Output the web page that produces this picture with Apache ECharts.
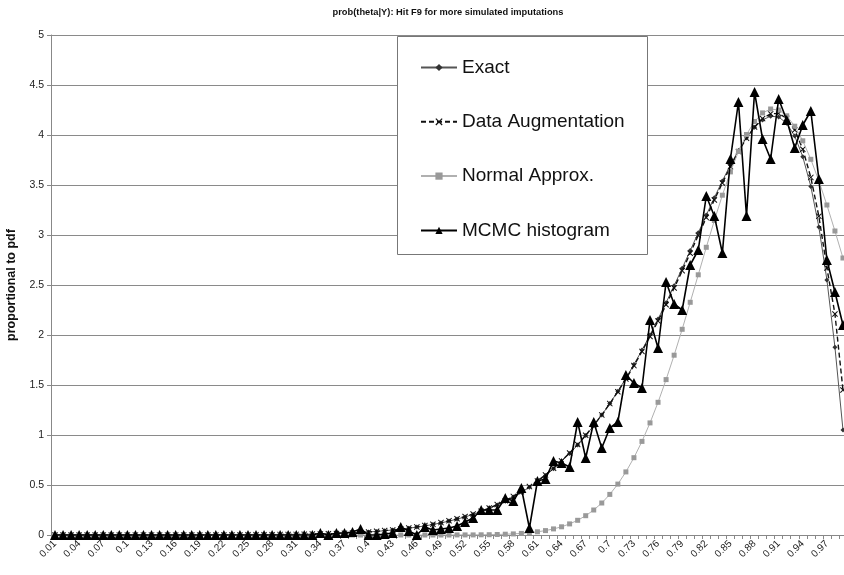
<!DOCTYPE html>
<html>
<head>
<meta charset="utf-8">
<script src="https://cdn.jsdelivr.net/npm/echarts@6/dist/echarts.min.js"></script>
<style>
html,body{margin:0;padding:0;background:#fff;}
#chart{width:844px;height:575px;}
</style>
</head>
<body>
<div id="chart"></div>
<script>
var categories = ['0.01','0.02','0.03','0.04','0.05','0.06','0.07','0.08','0.09','0.1',
'0.11','0.12','0.13','0.14','0.15','0.16','0.17','0.18','0.19','0.2',
'0.21','0.22','0.23','0.24','0.25','0.26','0.27','0.28','0.29','0.3',
'0.31','0.32','0.33','0.34','0.35','0.36','0.37','0.38','0.39','0.4',
'0.41','0.42','0.43','0.44','0.45','0.46','0.47','0.48','0.49','0.5',
'0.51','0.52','0.53','0.54','0.55','0.56','0.57','0.58','0.59','0.6',
'0.61','0.62','0.63','0.64','0.65','0.66','0.67','0.68','0.69','0.7',
'0.71','0.72','0.73','0.74','0.75','0.76','0.77','0.78','0.79','0.8',
'0.81','0.82','0.83','0.84','0.85','0.86','0.87','0.88','0.89','0.9',
'0.91','0.92','0.93','0.94','0.95','0.96','0.97','0.98','0.99'];

var exact = [0,0,0,0,0,0,0,0,0,0,
0,0,0,0,0,0,0,0,0,0,
0.001,0.001,0.001,0.001,0.002,0.002,0.002,0.003,0.004,0.005,
0.006,0.007,0.009,0.011,0.013,0.015,0.018,0.022,0.026,0.031,
0.036,0.043,0.050,0.058,0.068,0.079,0.091,0.105,0.121,0.139,
0.159,0.181,0.206,0.234,0.265,0.300,0.338,0.380,0.427,0.478,
0.534,0.596,0.663,0.736,0.815,0.901,0.994,1.093,1.200,1.315,
1.437,1.567,1.704,1.849,2.000,2.159,2.323,2.493,2.667,2.844,
3.022,3.199,3.373,3.541,3.700,3.845,3.973,4.077,4.151,4.188,
4.180,4.117,3.989,3.783,3.486,3.081,2.551,1.877,1.050];

var dataAug = [0,0,0,0,0,0,0,0,0,0,
0,0,0,0,0,0,0,0,0,0,
0.001,0.001,0.001,0.001,0.002,0.002,0.002,0.003,0.004,0.005,
0.006,0.007,0.009,0.010,0.012,0.015,0.018,0.021,0.025,0.030,
0.037,0.044,0.051,0.060,0.070,0.081,0.094,0.108,0.124,0.142,
0.162,0.185,0.210,0.238,0.270,0.304,0.343,0.386,0.432,0.484,
0.540,0.601,0.668,0.741,0.820,0.905,0.997,1.096,1.201,1.314,
1.433,1.560,1.694,1.836,1.985,2.140,2.302,2.470,2.642,2.818,
2.996,3.174,3.350,3.520,3.683,3.834,3.968,4.080,4.164,4.212,
4.216,4.166,4.050,3.858,3.576,3.187,2.670,2.210,1.450];

var normalApprox = [0,0,0,0,0,0,0,0,0,0,
0,0,0,0,0,0,0,0,0,0,
0,0,0,0,0,0,0,0,0,0,
0,0,0,0,0,0,0,0,0,0,
0,0,0,0,0,0,0,0,0,0,
0.001,0.001,0.001,0.002,0.003,0.005,0.008,0.011,0.016,0.023,
0.032,0.044,0.061,0.082,0.111,0.147,0.193,0.250,0.320,0.406,
0.509,0.631,0.773,0.936,1.121,1.327,1.554,1.798,2.057,2.327,
2.602,2.877,3.145,3.398,3.631,3.835,4.005,4.135,4.221,4.260,
4.250,4.192,4.088,3.942,3.757,3.541,3.300,3.040,2.770];

var mcmc = [0,0,0,0,0,0,0,0,0,0,
0,0,0,0,0,0,0,0,0,0,
0,0,0,0,0,0,0,0,0,0,
0,0,0,0.02,0,0.02,0.02,0.03,0.06,0,
0,0.01,0.02,0.08,0.04,0,0.08,0.05,0.06,0.07,
0.09,0.13,0.17,0.25,0.25,0.25,0.37,0.34,0.47,0.07,
0.54,0.56,0.74,0.72,0.68,1.13,0.77,1.13,0.87,1.07,
1.13,1.60,1.52,1.47,2.15,1.87,2.53,2.31,2.25,2.70,
2.85,3.39,3.19,2.82,3.76,4.33,3.19,4.43,3.96,3.76,
4.36,4.15,3.87,4.10,4.24,3.56,2.75,2.43,2.10];

var yTicks = ['0','0.5','1','1.5','2','2.5','3','3.5','4','4.5','5'];

var FONT = 'Arial, "Liberation Sans", sans-serif';
var xMark = 'path://M0,1.2L1.2,0L5,3.8L8.8,0L10,1.2L6.2,5L10,8.8L8.8,10L5,6.2L1.2,10L0,8.8L3.8,5Z';

var chart = echarts.init(document.getElementById('chart'));
chart.setOption({
  animation: false,
  backgroundColor: '#fff',
  title: {
    text: 'prob(theta|Y): Hit F9 for more simulated imputations',
    left: 443, top: 3, textAlign: 'center',
    textStyle: {fontFamily: FONT, fontSize: 9.3, fontWeight: 'bold', color: '#111'}
  },
  graphic: [{
    type: 'rect', left: 397, top: 36, z: 1,
    shape: {width: 250, height: 218},
    style: {fill: '#fff', stroke: '#777', lineWidth: 1}
  }],
  legend: {
    orient: 'vertical', left: 415, top: 53, z: 5,
    itemWidth: 36, itemHeight: 9, itemGap: 35.3,
    textStyle: {fontFamily: FONT, fontSize: 19, color: '#111'},
    data: ['Exact', 'Data Augmentation', 'Normal Approx.', 'MCMC histogram']
  },
  grid: {left: 51, right: -3, top: 35, bottom: 40, containLabel: false, outerBoundsMode: 'none'},
  xAxis: {
    type: 'category', data: categories, boundaryGap: true,
    axisLine: {lineStyle: {color: '#888', width: 1}},
    axisTick: {show: true, interval: 0, length: 4, lineStyle: {color: '#888'}},
    axisLabel: {interval: 2, rotate: 45, fontFamily: FONT, fontSize: 10, color: '#222', margin: 7},
    splitLine: {show: false}
  },
  yAxis: {
    type: 'value', min: 0, max: 5, interval: 0.5,
    name: 'proportional to pdf', nameLocation: 'middle', nameGap: 31,
    nameTextStyle: {fontFamily: FONT, fontSize: 12.5, fontWeight: 'bold', color: '#111'},
    axisLine: {show: true, lineStyle: {color: '#888', width: 1}},
    axisTick: {show: true, length: 4, lineStyle: {color: '#888'}},
    axisLabel: {fontFamily: FONT, fontSize: 10.5, color: '#222', margin: 7,
      formatter: function (v) { var i = Math.round(v / 0.5); return yTicks[i] !== undefined ? yTicks[i] : v; }},
    splitLine: {lineStyle: {color: '#8a8a8a', width: 1}}
  },
  series: [
    {name: 'Exact', type: 'line', data: exact, z: 2,
     symbol: 'diamond', symbolSize: 5, showAllSymbol: true,
     lineStyle: {color: '#555', width: 1}, itemStyle: {color: '#333'}},
    {name: 'Data Augmentation', type: 'line', data: dataAug, z: 3,
     symbol: xMark, symbolSize: 6, showAllSymbol: true,
     lineStyle: {color: '#111', width: 1.4, type: [5, 3]}, itemStyle: {color: '#111'}},
    {name: 'Normal Approx.', type: 'line', data: normalApprox, z: 4,
     symbol: 'rect', symbolSize: 5, showAllSymbol: true,
     lineStyle: {color: '#b0b0b0', width: 1}, itemStyle: {color: '#999'}},
    {name: 'MCMC histogram', type: 'line', data: mcmc, z: 5,
     symbol: 'triangle', symbolSize: 10, showAllSymbol: true,
     lineStyle: {color: '#000', width: 1.6}, itemStyle: {color: '#000'}}
  ]
});
</script>
</body>
</html>
